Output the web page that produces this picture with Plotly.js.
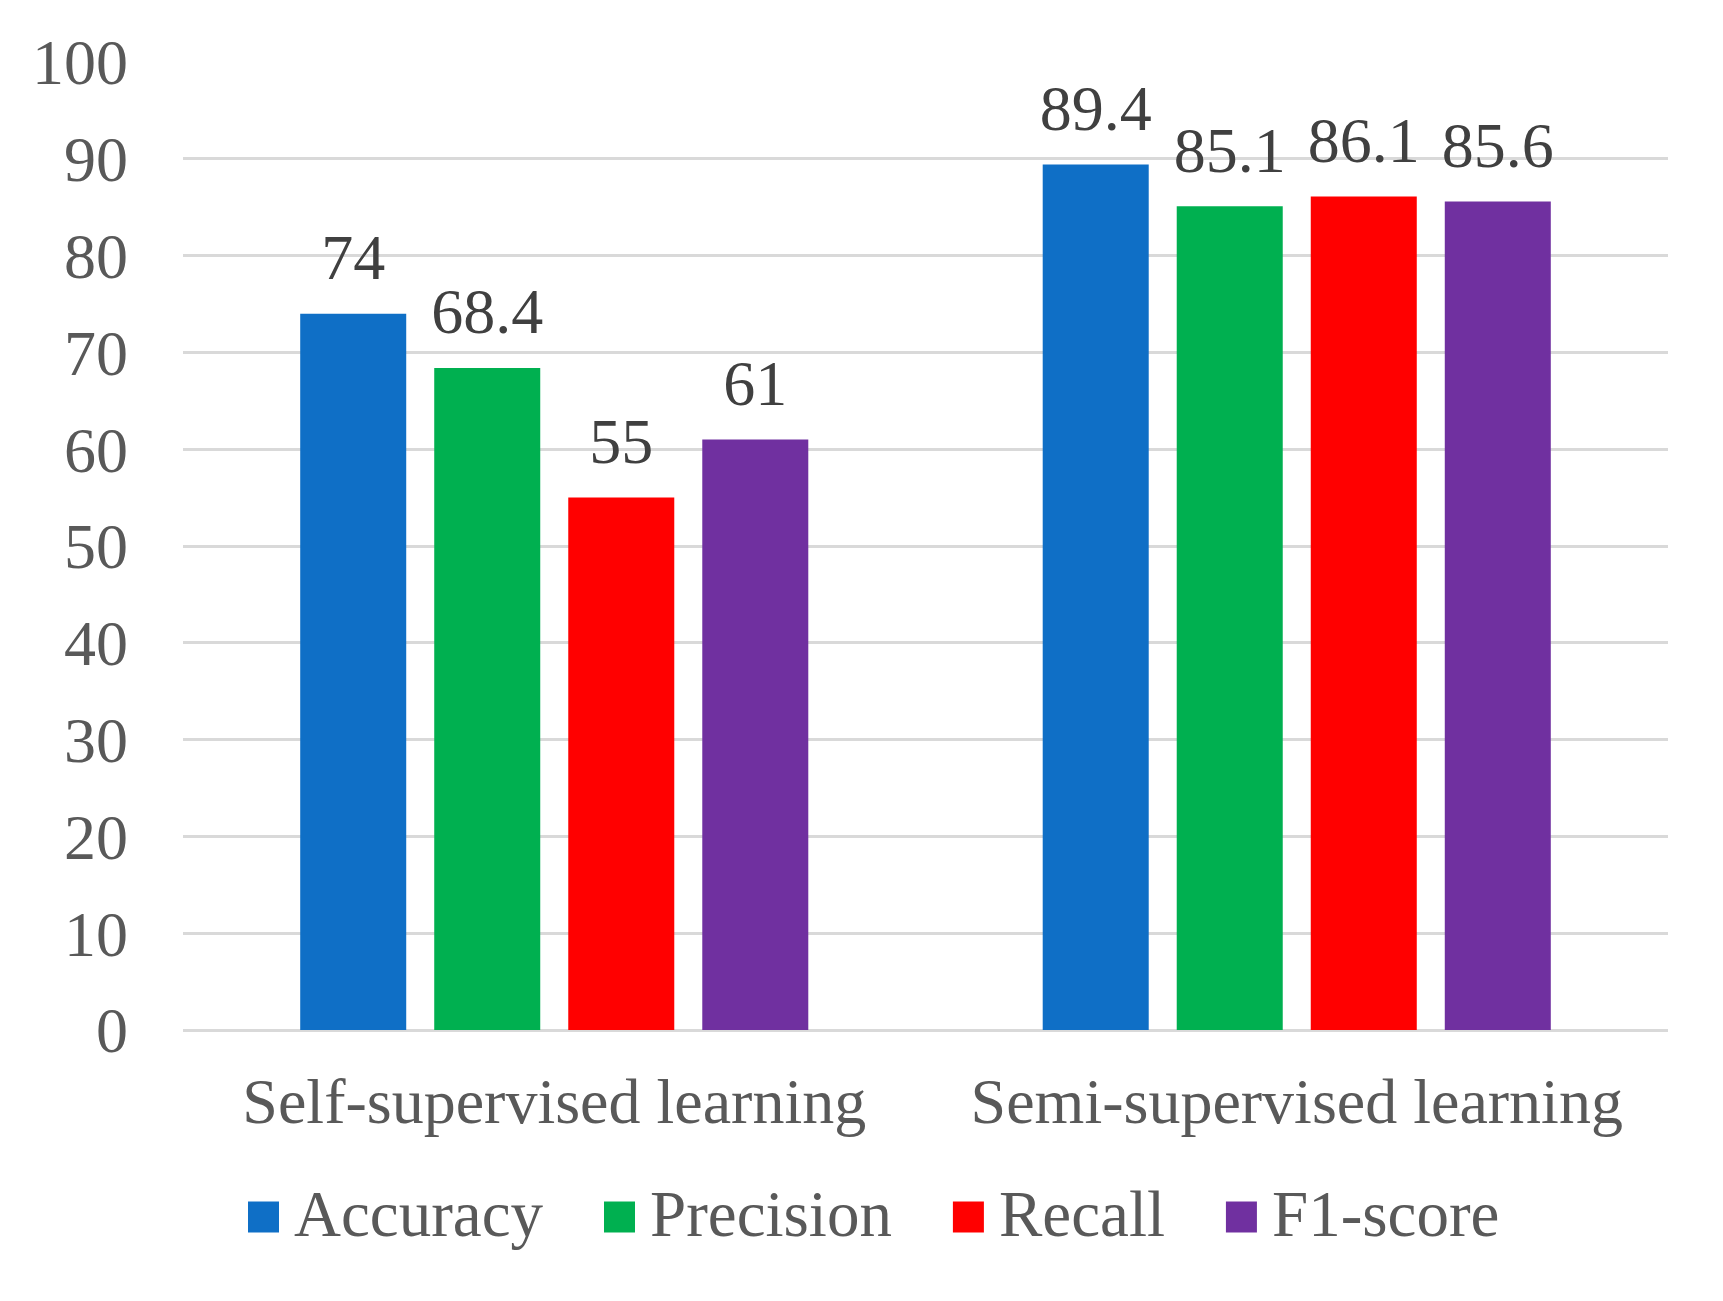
<!DOCTYPE html>
<html>
<head>
<meta charset="utf-8">
<script src="https://cdn.plot.ly/plotly-3.0.1.min.js"></script>
<style>html,body{margin:0;padding:0;background:#fff;}#chart{width:1723px;height:1301px;}</style>
</head>
<body>
<div id="chart"></div>
<script>
const categories = ['Self-supervised learning', 'Semi-supervised learning'];
const seriesNames = ['Accuracy', 'Precision', 'Recall', 'F1-score'];
const accuracy = [74, 89.4];
const precision = [68.4, 85.1];
const recall = [55, 86.1];
const f1score = [61, 85.6];
const yTicks = [0, 10, 20, 30, 40, 50, 60, 70, 80, 90, 100];

const seriesValues = [accuracy, precision, recall, f1score];
const colors = ['#0F6FC6', '#00B050', '#FF0000', '#7030A0'];
const FONT = '"Liberation Serif", "Times New Roman", serif';

const W = 1723, H = 1301, ML = 183, MR = 55, MT = 62, MB = 271;
const PW = W - ML - MR, PH = H - MT - MB;
const toPX = px => (px - ML) / PW;
const toPY = py => (H - MB - py) / PH;

const traces = [];
seriesValues.forEach((vals, i) => {
  traces.push({
    type: 'bar', name: seriesNames[i], x: categories, y: vals,
    marker: {color: colors[i]}, hoverinfo: 'skip', showlegend: false
  });
});
seriesValues.forEach((vals, i) => {
  traces.push({
    type: 'scatter', mode: 'markers+text', x: categories, y: vals,
    text: vals.map(v => String(v)), textposition: 'top center',
    textfont: {family: FONT, size: 64, color: '#404040'},
    marker: {size: 28, opacity: 0}, showlegend: false, cliponaxis: false,
    hoverinfo: 'skip'
  });
});

// Legend drawn as layout shapes + annotations (large square keys like the original)
const LEG_FONT = 65, SQ = 31, SQ_TEXT_GAP = 14, ITEM_GAP = 62;
const LEG_START = 248, LEG_CY = 1217, LEG_TEXT_CY = 1214;
const cv = document.createElement('canvas').getContext('2d');
cv.font = LEG_FONT + 'px "Liberation Serif"';
const shapes = [], annotations = [];
let cx = LEG_START;
seriesNames.forEach((name, i) => {
  shapes.push({
    type: 'rect', xref: 'paper', yref: 'paper', layer: 'above',
    x0: toPX(cx), x1: toPX(cx + SQ), y0: toPY(LEG_CY + SQ / 2), y1: toPY(LEG_CY - SQ / 2),
    fillcolor: colors[i], line: {width: 0}
  });
  const tx = cx + SQ + SQ_TEXT_GAP;
  annotations.push({
    xref: 'paper', yref: 'paper', x: toPX(tx), y: toPY(LEG_TEXT_CY),
    xanchor: 'left', yanchor: 'middle', showarrow: false, borderpad: 0,
    text: name, font: {family: FONT, size: LEG_FONT, color: '#595959'}
  });
  cx = tx + cv.measureText(name).width + ITEM_GAP;
});

const layout = {
  width: W, height: H,
  margin: {l: ML, r: MR, t: MT, b: MB},
  paper_bgcolor: '#ffffff', plot_bgcolor: '#ffffff',
  font: {family: FONT, size: 64, color: '#595959'},
  barmode: 'group', bargap: 0.278, bargroupgap: 0.209,
  scattermode: 'group', scattergap: 0.278,
  showlegend: false,
  shapes: shapes, annotations: annotations,
  xaxis: {
    type: 'category', showgrid: false, showline: false, ticks: '',
    tickfont: {family: FONT, size: 64, color: '#595959'},
    ticklabelstandoff: 28, fixedrange: true
  },
  yaxis: {
    range: [0, 100], tickvals: yTicks, ticktext: yTicks.map(String),
    showgrid: true, gridcolor: '#D9D9D9', gridwidth: 3,
    zeroline: true, zerolinecolor: '#D9D9D9', zerolinewidth: 3,
    showline: false, ticks: '', ticklabelstandoff: 54,
    tickfont: {family: FONT, size: 64, color: '#595959'}, fixedrange: true
  }
};

Plotly.newPlot('chart', traces, layout, {displayModeBar: false, staticPlot: true});
</script>
</body>
</html>
